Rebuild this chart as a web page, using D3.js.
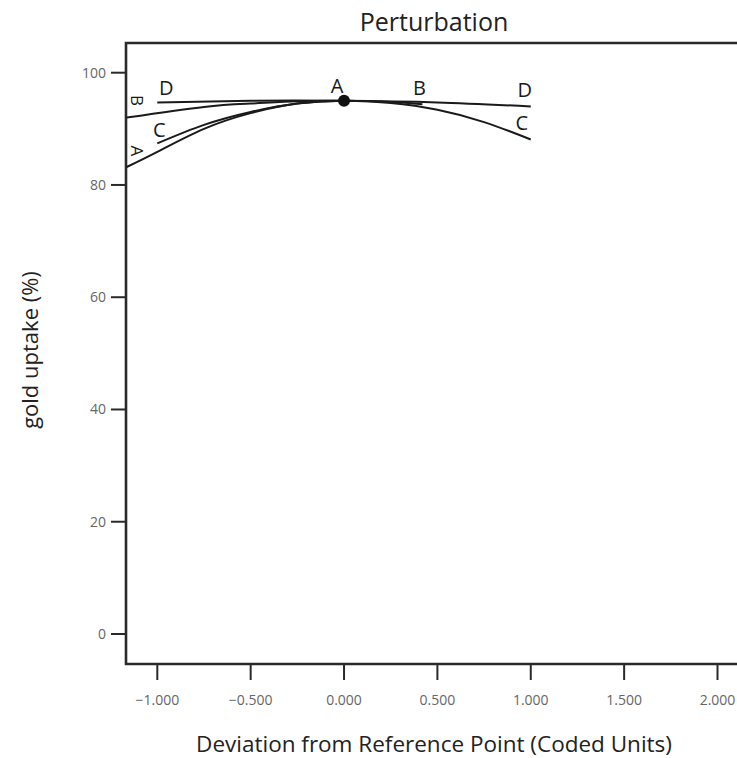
<!DOCTYPE html>
<html>
<head>
<meta charset="utf-8">
<script src="https://cdn.jsdelivr.net/npm/d3@7"></script>
<style>
  body { margin: 0; background: #fff; }
  svg { display: block; font-family: "Open Sans", "Noto Sans", sans-serif; }
  .tick-label { fill: #666; font-size: 14px; }
  .curve { fill: none; stroke: #1a1a1a; stroke-width: 2; }
  .factor { fill: #1a1a1a; font-size: 20px; }
</style>
</head>
<body>
<div id="chart"></div>
<script>
// values (coded deviation -> gold uptake %)
const xTicks = [-1, -0.5, 0, 0.5, 1, 1.5, 2];
const yTicks = [0, 20, 40, 60, 80, 100];

const factorA = [[-1.164, 83.2], [-1, 85.9], [-0.75, 90.0], [-0.5, 92.8], [-0.25, 94.5], [0, 95.0]];
const factorB = [[-1.164, 92.0], [-0.75, 93.9], [-0.5, 94.5], [-0.25, 94.9], [0, 95.0], [0.25, 94.8], [0.42, 94.4]];
const factorC = [[-1, 87.4], [-0.75, 90.7], [-0.5, 93.0], [-0.25, 94.5], [0, 95.0], [0.25, 94.6], [0.5, 93.4], [0.75, 91.2], [1, 88.1]];
const factorD = [[-1, 94.7], [-0.5, 95.0], [0, 95.0], [0.5, 94.7], [1, 94.0]];
const referencePoint = [0, 95.0];

const width = 737, height = 758;
const frame = { left: 126, top: 43, bottom: 664 };

const x = d3.scaleLinear().domain([-1, 2]).range([157.3, 717.5]);
const y = d3.scaleLinear().domain([0, 100]).range([634, 72.7]);

const svg = d3.select('#chart').append('svg')
  .attr('width', width)
  .attr('height', height);

// frame (right side runs off the picture)
svg.append('path')
  .attr('d', `M${width + 10},${frame.top}H${frame.left}V${frame.bottom}H${width + 10}`)
  .attr('fill', 'none')
  .attr('stroke', '#2a2a2a')
  .attr('stroke-width', 2.6);

// y axis ticks
const yAxis = svg.append('g');
yAxis.selectAll('line').data(yTicks).enter().append('line')
  .attr('x1', 111).attr('x2', frame.left)
  .attr('y1', d => y(d)).attr('y2', d => y(d))
  .attr('stroke', '#2a2a2a').attr('stroke-width', 2);
yAxis.selectAll('text').data(yTicks).enter().append('text')
  .attr('class', 'tick-label')
  .attr('x', 106).attr('y', d => y(d))
  .attr('dy', '0.35em')
  .attr('text-anchor', 'end')
  .text(d => d);

// x axis ticks
const xAxis = svg.append('g');
xAxis.selectAll('line').data(xTicks).enter().append('line')
  .attr('x1', d => x(d)).attr('x2', d => x(d))
  .attr('y1', frame.bottom).attr('y2', 680)
  .attr('stroke', '#2a2a2a').attr('stroke-width', 2);
xAxis.selectAll('text').data(xTicks).enter().append('text')
  .attr('class', 'tick-label')
  .attr('x', d => x(d)).attr('y', 705)
  .attr('text-anchor', 'middle')
  .text(d => d3.format('.3f')(d));

// titles
svg.append('text')
  .attr('x', 434).attr('y', 31)
  .attr('text-anchor', 'middle')
  .attr('font-size', 25).attr('fill', '#222')
  .text('Perturbation');

svg.append('text')
  .attr('x', 434).attr('y', 752)
  .attr('text-anchor', 'middle')
  .attr('font-size', 22.5).attr('fill', '#222')
  .text('Deviation from Reference Point (Coded Units)');

svg.append('text')
  .attr('transform', 'translate(38,350) rotate(-90)')
  .attr('text-anchor', 'middle')
  .attr('font-size', 22).attr('fill', '#222')
  .text('gold uptake (%)');

// factor curves
const line = d3.line()
  .x(d => x(d[0]))
  .y(d => y(d[1]))
  .curve(d3.curveNatural);

const curves = [factorD, factorB, factorC, factorA];
svg.selectAll('.curve').data(curves).enter().append('path')
  .attr('class', 'curve')
  .attr('d', line);

svg.append('circle')
  .attr('cx', x(referencePoint[0]))
  .attr('cy', y(referencePoint[1]))
  .attr('r', 6)
  .attr('fill', '#111');

// curve end labels
const endLabels = [
  { t: 'D', p: factorD[0], dx: 9, dy: -7 },
  { t: 'D', p: factorD[factorD.length - 1], dx: -6, dy: -9 },
  { t: 'C', p: factorC[0], dx: 2, dy: -6 },
  { t: 'C', p: factorC[factorC.length - 1], dx: -9, dy: -9 },
  { t: 'B', p: factorB[factorB.length - 1], dx: -3, dy: -9 },
  { t: 'A', p: referencePoint, dx: -7, dy: -8 }
];
svg.selectAll('.factor').data(endLabels).enter().append('text')
  .attr('class', 'factor')
  .attr('x', d => x(d.p[0]) + d.dx)
  .attr('y', d => y(d.p[1]) + d.dy)
  .attr('text-anchor', 'middle')
  .text(d => d.t);

// squeezed labels where A and B hit the left axis
const edgeLabels = [
  { t: 'B', p: factorB[0], dy: -17 },
  { t: 'A', p: factorA[0], dy: -16 }
];
svg.selectAll('.edge').data(edgeLabels).enter().append('text')
  .attr('class', 'edge')
  .attr('font-size', 17).attr('fill', '#1a1a1a')
  .attr('transform', d => `translate(${frame.left + 1},${y(d.p[1]) + d.dy}) rotate(90)`)
  .attr('dy', '-0.25em')
  .attr('text-anchor', 'middle')
  .text(d => d.t);
</script>
</body>
</html>
